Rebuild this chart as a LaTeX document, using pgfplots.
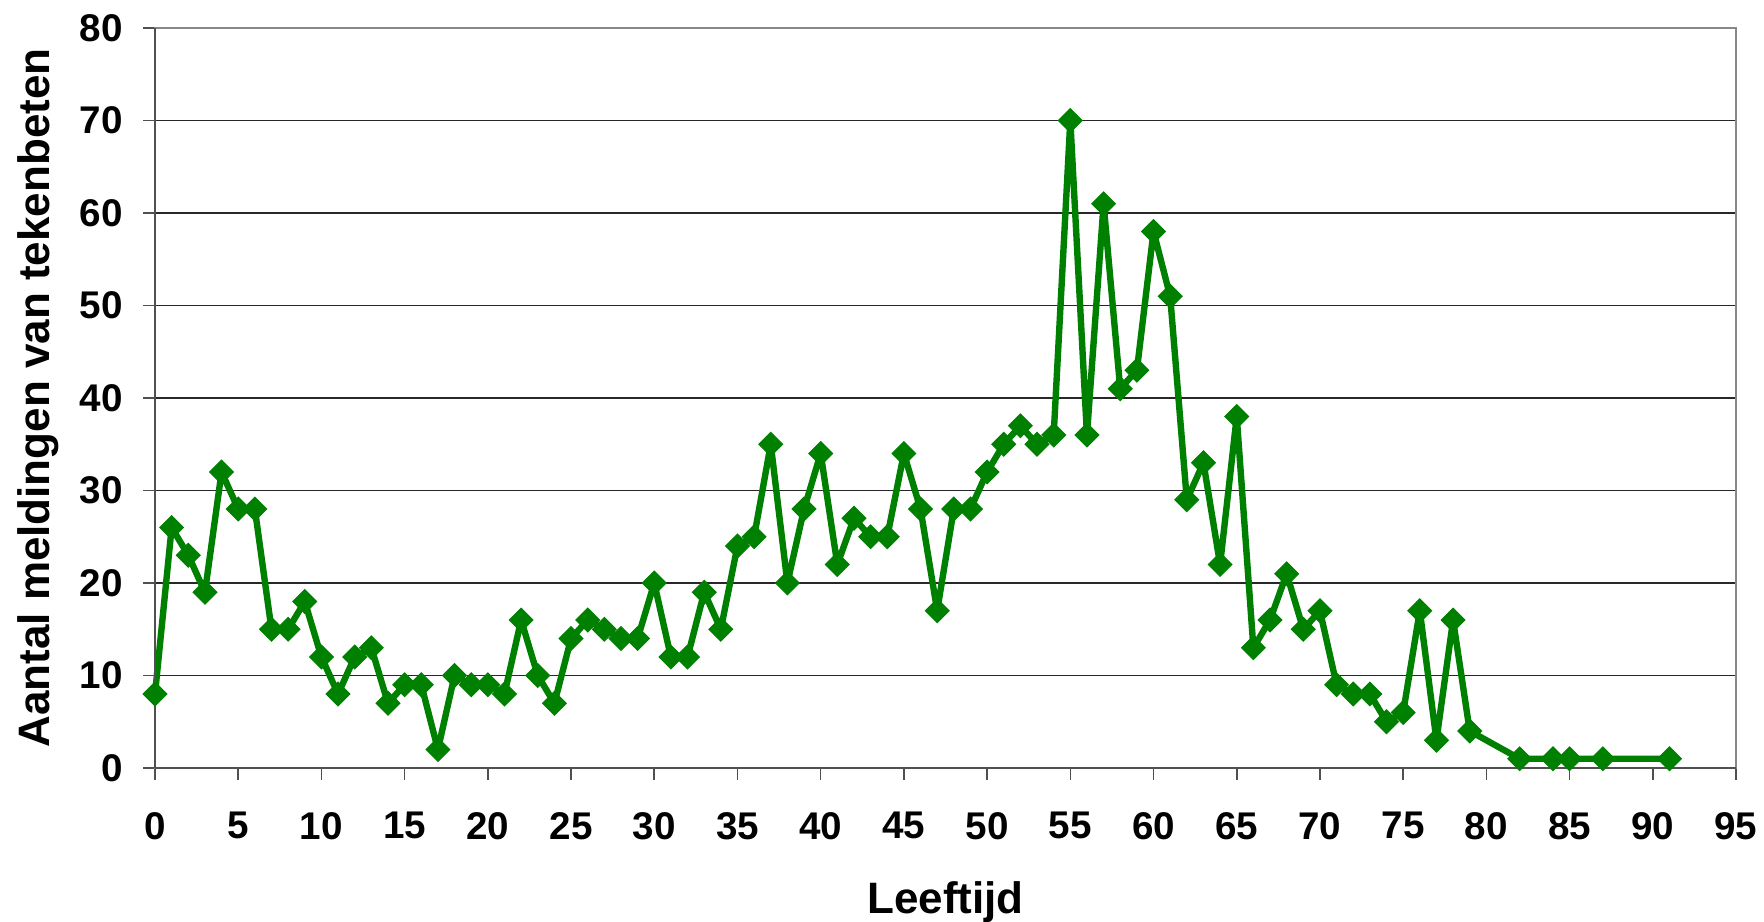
\documentclass[border=0pt]{standalone}
\usepackage{pgfplots}
\pgfplotsset{compat=1.18}
\usepackage{fontspec}
\setmainfont{Liberation Sans}
\definecolor{linegreen}{RGB}{0,128,0}
\definecolor{gridc}{RGB}{40,40,40}
\definecolor{axisc}{RGB}{80,80,80}
\definecolor{borderc}{RGB}{136,136,136}
\begin{document}
\begin{tikzpicture}
\path[use as bounding box] (-77.5pt,-76.5pt) rectangle (804.5pt,384pt);
\begin{axis}[
  at={(0,0)}, anchor=south west,
  scale only axis,
  width=790.5pt, height=370pt,
  xmin=0, xmax=95, ymin=0, ymax=80,
  xtick={0,5,...,95},
  ytick={0,10,...,80},
  xtick pos=bottom, ytick pos=left,
  tick align=outside,
  major tick length=6pt,
  tick style={axisc, line width=0.8pt},
  axis line style={borderc, line width=1pt},
  ymajorgrids,
  grid style={gridc, line width=0.7pt},
  /pgf/number format/assume math mode=true,
  ticklabel style={font=\fontsize{19.3}{23}\selectfont\bfseries, inner sep=0pt},
  yticklabel style={anchor=east, xshift=-10pt},
  xticklabel style={anchor=north, yshift=-16pt},
  label style={font=\fontsize{22}{26}\selectfont\bfseries},
  xlabel={Leeftijd},
  ylabel={Aantal meldingen van tekenbeten},
  xlabel style={at={([yshift=-72.5pt]axis description cs:0.5,0)}, anchor=base},
  ylabel style={at={([xshift=-52.5pt]axis description cs:0,0.5)}, anchor=base, rotate=0},
  clip=false,
]
\addplot[linegreen, line width=3.2pt, line join=round, mark=square*, mark size=4.2pt, mark options={solid, rotate=45, fill=linegreen, draw=linegreen, line width=0.5pt, line join=miter}] coordinates {
(0,8) (1,26) (2,23) (3,19) (4,32) (5,28) (6,28) (7,15) (8,15) (9,18)
(10,12) (11,8) (12,12) (13,13) (14,7) (15,9) (16,9) (17,2) (18,10) (19,9)
(20,9) (21,8) (22,16) (23,10) (24,7) (25,14) (26,16) (27,15) (28,14) (29,14)
(30,20) (31,12) (32,12) (33,19) (34,15) (35,24) (36,25) (37,35) (38,20) (39,28)
(40,34) (41,22) (42,27) (43,25) (44,25) (45,34) (46,28) (47,17) (48,28) (49,28)
(50,32) (51,35) (52,37) (53,35) (54,36) (55,70) (56,36) (57,61) (58,41) (59,43)
(60,58) (61,51) (62,29) (63,33) (64,22) (65,38) (66,13) (67,16) (68,21) (69,15)
(70,17) (71,9) (72,8) (73,8) (74,5) (75,6) (76,17) (77,3) (78,16) (79,4)
(82,1) (84,1) (85,1) (87,1) (91,1)
};
\draw[axisc, line width=1pt] (rel axis cs:0,0) -- (rel axis cs:0,1);
\draw[axisc, line width=1pt] (rel axis cs:0,0) -- (rel axis cs:1,0);
\end{axis}
\end{tikzpicture}
\end{document}
